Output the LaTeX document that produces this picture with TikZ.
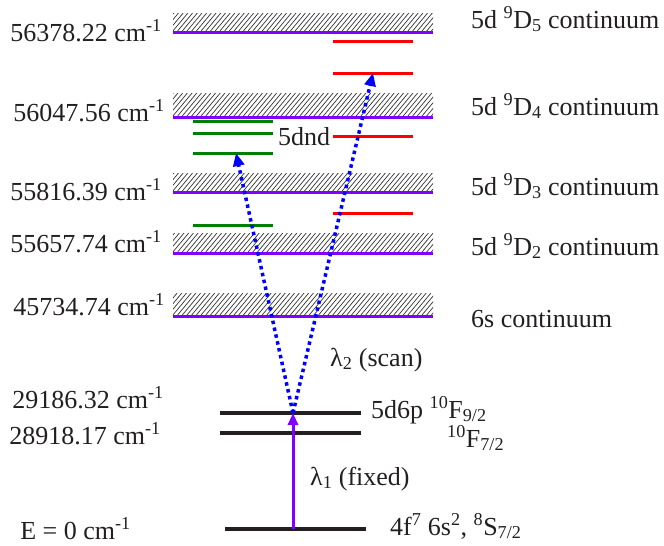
\documentclass[tikz,border=0pt]{standalone}
\usepackage{fontspec}
\setmainfont{Liberation Serif}
\usetikzlibrary{arrows.meta}
\definecolor{purp}{RGB}{127,0,255}
\definecolor{bluedot}{RGB}{0,0,255}
\definecolor{grn}{RGB}{0,128,0}
\definecolor{rd}{RGB}{255,0,0}
\definecolor{txt}{RGB}{35,31,32}
\begin{document}
\begin{tikzpicture}[x=1pt,y=-1pt,
  lbl/.style={font=\fontsize{26}{30}\selectfont,text=txt,inner sep=0pt},
  lvl/.style={line width=4.5pt,color=txt},
  cont/.style={line width=3pt,color=purp},
  hatch/.style={line width=0.7pt,color=black!80},
  rline/.style={line width=3pt,color=rd},
  gline/.style={line width=3pt,color=grn},
  exc/.style={line width=3pt,color=purp,-{Triangle[length=12pt,width=10pt]}},
  scan/.style={line width=3.5pt,color=bluedot,dash pattern=on 3.5pt off 3.5pt,-{Triangle[length=13pt,width=11pt]}}]
\useasboundingbox (0,0) rectangle (664,546);
% hatched continua
\foreach \t/\b in {13/31, 93/116, 173/191, 233/252, 293/315}{
  \begin{scope}
    \clip (173,\t) rectangle (433,\b);
    \foreach \k in {140,144.7,...,440} \draw[hatch] (\k,\b) -- ++(25,-30);
  \end{scope}
}
\foreach \y in {32,117,192,253,316} \draw[cont] (173,\y) -- (433,\y);
% red levels
\foreach \y in {41,73,136,213} \draw[rline] (333,\y) -- (413,\y);
% green levels
\foreach \y in {121,133,153,225} \draw[gline] (193,\y) -- (273,\y);
% black levels
\draw[lvl] (220,413) -- (361,413);
\draw[lvl] (220,433) -- (361,433);
\draw[lvl] (225,529) -- (366,529);
% coordinates
\coordinate (g) at (293,529);
\coordinate (f9) at (293,413);
\coordinate (gtop) at (236,153);
\coordinate (rtop) at (373,73);
\draw[exc] (g) -- (f9);
\draw[scan] (f9) -- (gtop);
\draw[scan] (f9) -- (rtop);
% left labels
\node[lbl,anchor=base east] (e1) at (162,41) {56378.22 cm\textsuperscript{-1}};
\node[lbl,anchor=base east] (e2) at (165,121) {56047.56 cm\textsuperscript{-1}};
\node[lbl,anchor=base east] (e3) at (162,200) {55816.39 cm\textsuperscript{-1}};
\node[lbl,anchor=base east] (e4) at (162,252) {55657.74 cm\textsuperscript{-1}};
\node[lbl,anchor=base east] (e5) at (165,315) {45734.74 cm\textsuperscript{-1}};
\node[lbl,anchor=base east] (e6) at (164,408) {29186.32 cm\textsuperscript{-1}};
\node[lbl,anchor=base east] (e7) at (161,444) {28918.17 cm\textsuperscript{-1}};
\node[lbl,anchor=base east] (e8) at (131,539) {E = 0 cm\textsuperscript{-1}};
% right labels
\node[lbl,anchor=base west] (c5) at (471,28) {5d \textsuperscript{9}D\textsubscript{5} continuum};
\node[lbl,anchor=base west] (c4) at (471,115) {5d \textsuperscript{9}D\textsubscript{4} continuum};
\node[lbl,anchor=base west] (c3) at (471,195) {5d \textsuperscript{9}D\textsubscript{3} continuum};
\node[lbl,anchor=base west] (c2) at (471,255) {5d \textsuperscript{9}D\textsubscript{2} continuum};
\node[lbl,anchor=base west] (c1) at (471,327) {6s continuum};
\node[lbl,anchor=base west] (nd) at (278,145) {5dnd};
\node[lbl,anchor=base west] (l2) at (330,366) {λ\textsubscript{2} (scan)};
\node[lbl,anchor=base west] (f9l) at (371,418) {5d6p \textsuperscript{10}F\textsubscript{9/2}};
\node[lbl,anchor=base west] (f7l) at (447,447) {\textsuperscript{10}F\textsubscript{7/2}};
\node[lbl,anchor=base west] (l1) at (310,485) {λ\textsubscript{1} (fixed)};
\node[lbl,anchor=base west] (gs) at (390,535) {4f\textsuperscript{7} 6s\textsuperscript{2}, \textsuperscript{8}S\textsubscript{7/2}};
\end{tikzpicture}
\end{document}
